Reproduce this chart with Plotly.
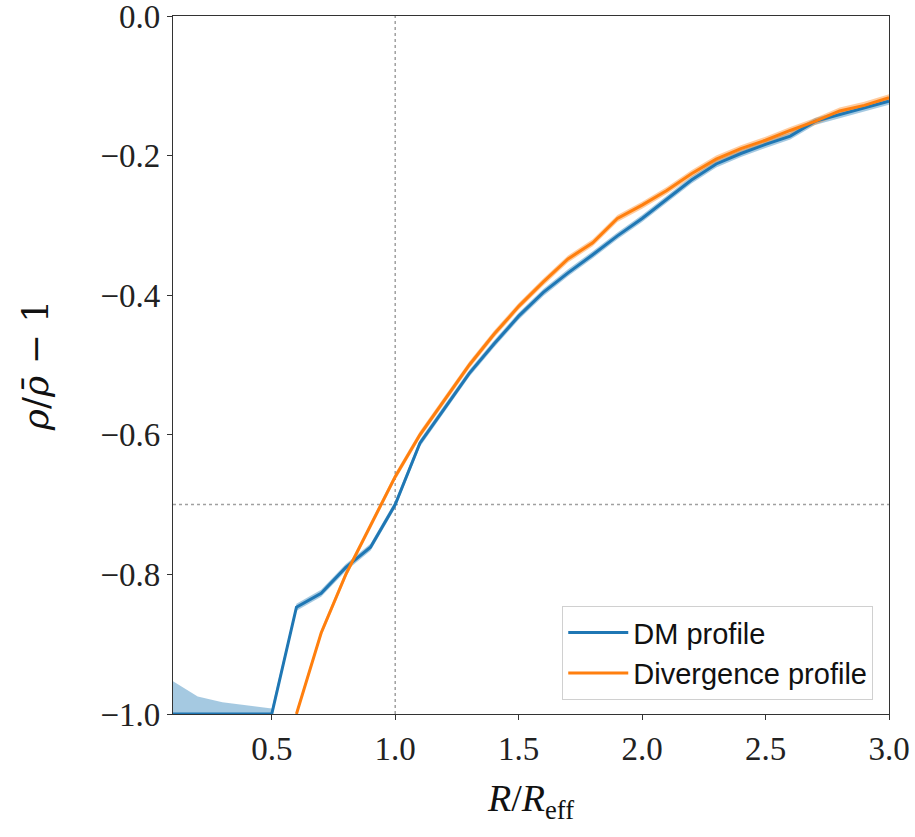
import plotly.graph_objects as go

# ---- data ----
r_dm = [0.1, 0.2, 0.3, 0.4, 0.5, 0.6, 0.7, 0.8, 0.9, 1.0, 1.1, 1.2, 1.3, 1.4, 1.5,
        1.6, 1.7, 1.8, 1.9, 2.0, 2.1, 2.2, 2.3, 2.4, 2.5, 2.6, 2.7, 2.8, 2.9, 3.0]
dm = [-1.0, -1.0, -1.0, -1.0, -1.0, -0.847, -0.827, -0.790, -0.761, -0.700, -0.612, -0.562,
      -0.512, -0.470, -0.430, -0.396, -0.368, -0.342, -0.315, -0.290, -0.262, -0.235,
      -0.212, -0.197, -0.184, -0.172, -0.151, -0.141, -0.131, -0.122]
dm_lo = [-1.0, -1.0, -1.0, -1.0, -1.0, -0.852, -0.832, -0.795, -0.766, -0.705, -0.617, -0.567,
         -0.517, -0.475, -0.435, -0.401, -0.373, -0.347, -0.320, -0.295, -0.267, -0.240,
         -0.217, -0.202, -0.189, -0.177, -0.156, -0.146, -0.136, -0.127]
dm_hi = [-0.953, -0.975, -0.983, -0.988, -0.992, -0.842, -0.822, -0.785, -0.756, -0.695, -0.607,
         -0.557, -0.507, -0.465, -0.425, -0.391, -0.363, -0.337, -0.310, -0.285, -0.257,
         -0.230, -0.207, -0.192, -0.179, -0.167, -0.146, -0.136, -0.126, -0.117]

r_div = [0.6, 0.7, 0.8, 0.9, 1.0, 1.1, 1.2, 1.3, 1.4, 1.5, 1.6, 1.7, 1.8, 1.9, 2.0,
         2.1, 2.2, 2.3, 2.4, 2.5, 2.6, 2.7, 2.8, 2.9, 3.0]
div = [-1.0, -0.884, -0.800, -0.730, -0.660, -0.600, -0.550, -0.500, -0.456, -0.416,
       -0.381, -0.348, -0.325, -0.290, -0.271, -0.250, -0.226, -0.205, -0.190, -0.178,
       -0.164, -0.151, -0.136, -0.128, -0.117]
div_lo = [-1.0, -0.889, -0.805, -0.735, -0.665, -0.605, -0.555, -0.505, -0.461, -0.421,
          -0.386, -0.353, -0.330, -0.295, -0.276, -0.255, -0.231, -0.210, -0.195, -0.183,
          -0.169, -0.156, -0.141, -0.133, -0.122]
div_hi = [-0.995, -0.879, -0.795, -0.725, -0.655, -0.595, -0.545, -0.495, -0.451, -0.411,
          -0.376, -0.343, -0.320, -0.285, -0.266, -0.245, -0.221, -0.200, -0.185, -0.173,
          -0.159, -0.146, -0.131, -0.123, -0.112]

x_ticks = [0.5, 1.0, 1.5, 2.0, 2.5, 3.0]
y_ticks = [-1.0, -0.8, -0.6, -0.4, -0.2, 0.0]
R_REF = 1.0
Y_REF = -0.7

BLUE = "#1f77b4"
ORANGE = "#ff7f0e"

fig = go.Figure()

# bands
fig.add_trace(go.Scatter(x=r_dm, y=dm_lo, mode="lines", line=dict(width=0),
                         showlegend=False, hoverinfo="skip"))
fig.add_trace(go.Scatter(x=r_dm, y=dm_hi, mode="lines", line=dict(width=0),
                         fill="tonexty", fillcolor="rgba(31,119,180,0.4)",
                         showlegend=False, hoverinfo="skip"))
fig.add_trace(go.Scatter(x=r_div, y=div_lo, mode="lines", line=dict(width=0),
                         showlegend=False, hoverinfo="skip"))
fig.add_trace(go.Scatter(x=r_div, y=div_hi, mode="lines", line=dict(width=0),
                         fill="tonexty", fillcolor="rgba(255,127,14,0.4)",
                         showlegend=False, hoverinfo="skip"))

# lines
fig.add_trace(go.Scatter(x=r_dm, y=dm, mode="lines", name="DM profile",
                         line=dict(color=BLUE, width=3)))
fig.add_trace(go.Scatter(x=r_div, y=div, mode="lines", name="Divergence profile",
                         line=dict(color=ORANGE, width=3)))

fig.add_vline(x=R_REF, line=dict(color="#a0a0a0", width=1.5, dash="dot"), layer="below")
fig.add_hline(y=Y_REF, line=dict(color="#a0a0a0", width=1.5, dash="dot"), layer="below")

axis_common = dict(
    showgrid=False, zeroline=False, showline=True, linecolor="#333", linewidth=1.2,
    mirror=True, ticks="outside", ticklen=5, tickwidth=1.2, tickcolor="#333",
    ticklabeloverflow="allow", automargin=False,
    tickfont=dict(family="Liberation Serif", size=33, color="#222"),
)

fig.update_layout(
    width=915, height=837,
    margin=dict(l=173, r=26, t=16, b=123),
    plot_bgcolor="white", paper_bgcolor="white",
    xaxis=dict(range=[0.1, 3.0], tickvals=x_ticks, tickformat=".1f",
               title=dict(text="<i>R</i>/<i>R</i><sub>eff</sub>", standoff=18,
                          font=dict(family="Liberation Serif", size=38, color="#111")),
               **axis_common),
    yaxis=dict(range=[-1.0, 0.0], tickvals=y_ticks, tickformat=".1f",
               title=dict(text="<i>ρ</i>/<i>ρ̄</i> − 1", standoff=40,
                          font=dict(family="DejaVu Serif", size=36, color="#111")),
               **axis_common),
    legend=dict(x=0.978, y=0.02, xanchor="right", yanchor="bottom",
                traceorder="normal",
                bgcolor="rgba(255,255,255,0.85)", bordercolor="#d0d0d0", borderwidth=1,
                font=dict(family="Liberation Sans", size=29, color="#111"),
                tracegroupgap=4, itemwidth=60),
    showlegend=True,
)

fig.write_html("out.html")
